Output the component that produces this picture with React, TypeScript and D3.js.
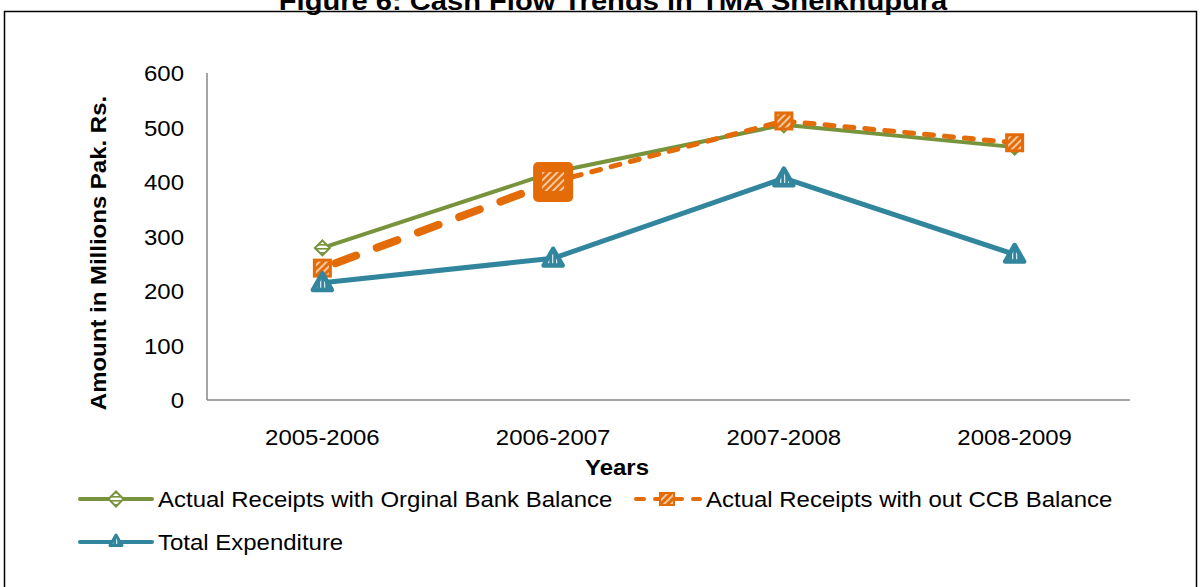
import React from "react";
import * as d3 from "d3";

const years = ["2005-2006", "2006-2007", "2007-2008", "2008-2009"];
const receiptsOriginal = [279, 418, 505, 464];
const receiptsWithoutCCB = [242, 400, 512, 472];
const totalExpenditure = [215, 260, 407, 267];
const yTicks = [0, 100, 200, 300, 400, 500, 600];

const seriesNames = [
  "Actual Receipts with Orginal Bank Balance",
  "Actual Receipts with out CCB Balance",
  "Total Expenditure",
];

const GREEN = "#77933C";
const ORANGE = "#E36C09";
const BLUE = "#31859C";
const AXIS = "#868686";
const FONT = "'Liberation Sans', Arial, Helvetica, sans-serif";
// glyphs in this figure are slightly wider than regular Arial
const STRETCH = 1.09;

const W = 1200;
const H = 587;
const plot = { left: 207, right: 1130, top: 73, bottom: 400 };

type TProps = {
  x: number;
  y: number;
  anchor?: "start" | "middle" | "end";
  size?: number;
  bold?: boolean;
  rotate?: number;
  sx?: number;
  children: React.ReactNode;
};

function T({ x, y, anchor = "start", size = 22, bold = false, rotate = 0, sx = STRETCH, children }: TProps) {
  return (
    <text
      transform={`translate(${x},${y}) rotate(${rotate}) scale(${sx},1)`}
      textAnchor={anchor}
      fontSize={size}
      fontWeight={bold ? "bold" : "normal"}
      fill="#000"
    >
      {children}
    </text>
  );
}

export default function App() {
  const x = d3.scaleBand<string>().domain(years).range([plot.left, plot.right]);
  const cx = (yr: string) => (x(yr) as number) + x.bandwidth() / 2;
  const y = d3.scaleLinear().domain([0, 600]).range([plot.bottom, plot.top]);

  const line = d3
    .line<number>()
    .x((_, i) => cx(years[i]))
    .y((v) => y(v));

  const greenPts = receiptsOriginal.map((v, i) => [cx(years[i]), y(v)]);
  const orangePts = receiptsWithoutCCB.map((v, i) => [cx(years[i]), y(v)]);
  const bluePts = totalExpenditure.map((v, i) => [cx(years[i]), y(v)]);

  const diamond = (px: number, py: number, r: number) =>
    `M${px},${py - r}L${px + r},${py}L${px},${py + r}L${px - r},${py}Z`;
  const triangle = (px: number, py: number, r: number) =>
    `M${px},${py - r}L${px + r},${py + r * 0.75}L${px - r},${py + r * 0.75}Z`;

  const greenMarker = (px: number, py: number, k: number) => (
    <path key={k} d={diamond(px, py, 7.5)} fill="url(#greenStripe)" stroke={GREEN} strokeWidth={2} />
  );
  const orangeMarker = (px: number, py: number, k: number, big = false) =>
    big ? (
      <g key={k}>
        <rect x={px - 20} y={py - 20} width={40} height={40} rx={5} fill={ORANGE} />
        <rect x={px - 11} y={py - 10} width={22} height={19} fill="url(#orangeHatch)" />
      </g>
    ) : (
      <rect
        key={k}
        x={px - 8}
        y={py - 8}
        width={16}
        height={16}
        fill="url(#orangeHatch)"
        stroke={ORANGE}
        strokeWidth={3}
      />
    );
  const blueMarker = (px: number, py: number, k: number) => (
    <path
      key={k}
      d={triangle(px, py, 9.5)}
      fill="url(#blueStripe)"
      stroke={BLUE}
      strokeWidth={4.5}
      strokeLinejoin="round"
    />
  );

  const legendY1 = 499;
  const legendY2 = 542;

  return (
    <svg
      width={W}
      height={H}
      style={{ position: "absolute", left: 0, top: 0, background: "#fff" }}
      fontFamily={FONT}
    >
      <defs>
        <pattern id="orangeHatch" width="5" height="5" patternUnits="userSpaceOnUse" patternTransform="rotate(45)">
          <rect width="5" height="5" fill={ORANGE} />
          <rect width="2" height="5" fill="#F6C9A3" />
        </pattern>
        <pattern id="greenStripe" width="4" height="4" patternUnits="userSpaceOnUse">
          <rect width="4" height="4" fill="#fff" />
          <rect width="4" height="1.6" fill={GREEN} />
        </pattern>
        <pattern id="blueStripe" width="4" height="4" patternUnits="userSpaceOnUse">
          <rect width="4" height="4" fill={BLUE} />
          <rect width="1.3" height="4" fill="#CFE6EC" />
        </pattern>
      </defs>

      {/* outer frame */}
      <rect x={4.5} y={11.5} width={1192} height={620} fill="none" stroke="#000" strokeWidth={1.5} />

      {/* title */}
      <T x={613} y={10} anchor="middle" size={26} bold sx={1.12}>
        Figure 6: Cash Flow Trends in TMA Sheikhupura
      </T>

      {/* axes */}
      <line x1={plot.left} x2={plot.left} y1={plot.top} y2={plot.bottom} stroke={AXIS} strokeWidth={1.5} />
      <line x1={plot.left} x2={plot.right} y1={plot.bottom} y2={plot.bottom} stroke={AXIS} strokeWidth={1.5} />

      {yTicks.map((t) => (
        <T key={t} x={184} y={y(t) + 8} anchor="end">
          {t}
        </T>
      ))}
      {years.map((yr) => (
        <T key={yr} x={cx(yr)} y={445} anchor="middle">
          {yr}
        </T>
      ))}

      <T x={617} y={475} anchor="middle" bold>
        Years
      </T>
      <T x={106} y={253} anchor="middle" bold rotate={-90}>
        Amount in Millions Pak. Rs.
      </T>

      {/* series: original bank balance */}
      <path d={line(receiptsOriginal) as string} fill="none" stroke={GREEN} strokeWidth={4} strokeLinejoin="round" />
      {greenPts.map((p, i) => greenMarker(p[0], p[1], i))}

      {/* series: without CCB balance (first segment drawn heavier) */}
      <path
        d={`M${orangePts[0][0]},${orangePts[0][1]}L${orangePts[1][0]},${orangePts[1][1]}`}
        fill="none"
        stroke={ORANGE}
        strokeWidth={8}
        strokeLinecap="round"
        strokeDasharray="22 22"
        strokeDashoffset={-14}
      />
      <path
        d={`M${orangePts[1][0]},${orangePts[1][1]}L${orangePts[2][0]},${orangePts[2][1]}L${orangePts[3][0]},${orangePts[3][1]}`}
        fill="none"
        stroke={ORANGE}
        strokeWidth={5}
        strokeLinecap="round"
        strokeLinejoin="round"
        strokeDasharray="9 11"
      />
      {orangePts.map((p, i) => orangeMarker(p[0], p[1], i, i === 1))}

      {/* series: total expenditure */}
      <path d={line(totalExpenditure) as string} fill="none" stroke={BLUE} strokeWidth={5} strokeLinejoin="round" />
      {bluePts.map((p, i) => blueMarker(p[0], p[1], i))}

      {/* legend */}
      <g>
        <line x1={80} x2={152} y1={legendY1} y2={legendY1} stroke={GREEN} strokeWidth={4} strokeLinecap="round" />
        {greenMarker(116, legendY1, 0)}
        <T x={158} y={legendY1 + 8}>{seriesNames[0]}</T>

        <line
          x1={636}
          x2={700}
          y1={legendY1}
          y2={legendY1}
          stroke={ORANGE}
          strokeWidth={4}
          strokeLinecap="round"
          strokeDasharray="8 11"
        />
        <rect x={660} y={legendY1 - 6} width={14} height={12} fill="url(#orangeHatch)" stroke={ORANGE} strokeWidth={2} />
        <T x={706} y={legendY1 + 8}>{seriesNames[1]}</T>

        <line x1={80} x2={152} y1={legendY2} y2={legendY2} stroke={BLUE} strokeWidth={4} strokeLinecap="round" />
        <path
          d={triangle(116, legendY2 - 1, 6)}
          fill="url(#blueStripe)"
          stroke={BLUE}
          strokeWidth={3}
          strokeLinejoin="round"
        />
        <T x={158} y={legendY2 + 8}>{seriesNames[2]}</T>
      </g>
    </svg>
  );
}
